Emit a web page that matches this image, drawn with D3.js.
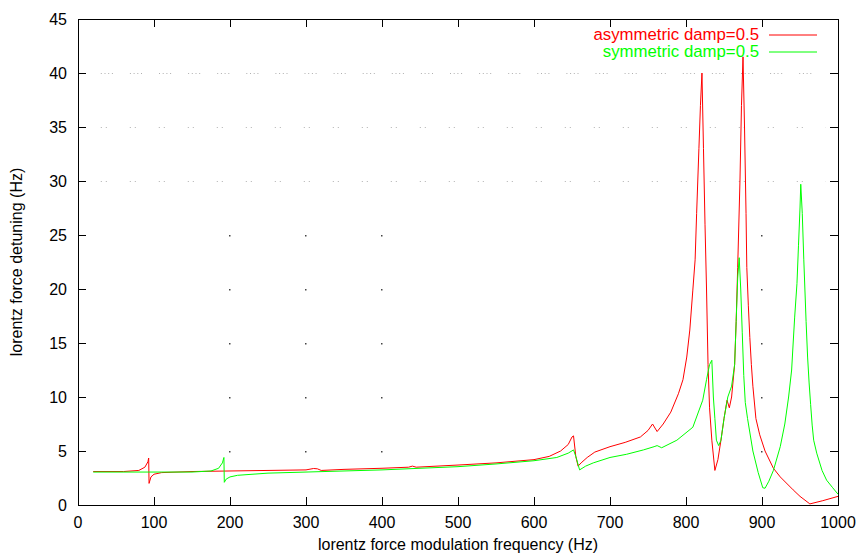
<!DOCTYPE html>
<html>
<head>
<meta charset="utf-8">
<script src="https://cdn.jsdelivr.net/npm/d3@7"></script>
<style>
  body { margin: 0; background: #fff; }
  text { font-family: "Liberation Sans", Arial, Helvetica, sans-serif; font-size: 16px; }
</style>
</head>
<body>
<svg width="860" height="554"></svg>
<script>
// asymmetric damp=0.5 (red)
var asymFreq = [20, 60, 80, 88, 92, 93, 93.5, 96, 100, 110, 150, 200, 250, 300, 310, 315, 320, 350, 400, 435, 440, 445,
  500, 550, 600, 620, 635, 645, 650, 652, 655, 658, 662, 670, 680, 700, 720, 740, 750, 756, 762, 770, 780, 790, 796,
  801, 805, 809, 812, 814, 817, 819, 821, 823, 825, 827, 829, 831, 834, 838, 842, 846, 850, 854, 857, 860, 864, 866,
  868, 871, 873, 875, 877, 879, 880, 882, 884, 886, 888, 892, 897, 904, 915, 924, 941, 950, 963, 980, 1000];
var asymDetune = [3.1, 3.1, 3.2, 3.5, 4.0, 4.35, 2.0, 2.6, 2.85, 3.0, 3.1, 3.15, 3.2, 3.25, 3.38, 3.35, 3.2, 3.3, 3.4, 3.5, 3.6, 3.5,
  3.7, 3.9, 4.2, 4.5, 5.0, 5.6, 6.3, 6.4, 4.5, 3.6, 3.9, 4.4, 4.9, 5.4, 5.8, 6.3, 6.9, 7.5, 6.8, 7.5, 8.6, 10.3, 11.6,
  13.7, 16.2, 19.9, 22.7, 27, 33, 37, 40, 33, 26, 20, 13, 9, 6, 3.2, 4.2, 6, 8, 9.7, 9, 10, 13, 17,
  22, 30, 37, 41.5, 35, 27, 22, 18.5, 15.5, 13, 11, 8, 6.5, 5.0, 3.4, 2.6, 1.4, 0.8, 0.1, 0.4, 0.8];

// symmetric damp=0.5 (green)
var symFreq = [20, 100, 150, 175, 185, 190, 192, 192.5, 195, 200, 210, 250, 300, 350, 400, 450, 500, 550, 600, 630, 645,
  652, 655, 660, 668, 678, 700, 722, 744, 758, 762, 768, 788, 809, 822, 827, 831, 834, 836, 838, 840, 843, 846, 850,
  855, 860, 864, 866, 868, 870, 872, 874, 876, 878, 881, 888, 895, 901, 904, 909, 915, 924, 930, 935, 939, 941, 943,
  946, 948, 950, 951, 953, 955, 958, 960, 962, 964, 966, 968, 972, 979, 985, 993, 1000];
var symDetune = [3.05, 3.05, 3.05, 3.15, 3.4, 3.9, 4.4, 2.1, 2.4, 2.6, 2.75, 2.95, 3.05, 3.15, 3.25, 3.4, 3.55, 3.8, 4.1, 4.4, 4.8,
  5.1, 4.5, 3.25, 3.6, 3.9, 4.4, 4.7, 5.1, 5.4, 5.5, 5.3, 6.0, 7.2, 9.7, 11.6, 13, 13.4, 10, 8, 6, 5.5, 6, 8,
  10, 11, 13, 17, 21, 22.9, 20, 16, 12, 9.5, 8, 5, 3, 1.6, 1.55, 2.2, 3.2, 5.4, 7.5, 10, 12.5, 15, 17.4,
  20.5, 24, 27.5, 29.7, 27, 22.7, 17, 13.7, 11.3, 9.3, 7.4, 6.0, 4.8, 3.2, 2.3, 1.6, 1.0];

var xTicks = [0, 100, 200, 300, 400, 500, 600, 700, 800, 900, 1000];
var yTicks = [0, 5, 10, 15, 20, 25, 30, 35, 40, 45];
var gridDotX = [200, 300, 400, 900];

var svg = d3.select("svg");
var plotLeft = 78, plotRight = 838, plotTop = 19, plotBottom = 505;

var x = d3.scaleLinear().domain([0, 1000]).range([plotLeft, plotRight]);
var y = d3.scaleLinear().domain([0, 45]).range([plotBottom, plotTop]);

// faint dotted grid (mostly only dots survive in the original)
var grid = svg.append("g");
yTicks.filter(function (v) { return v > 0 && v < 45; }).forEach(function (v) {
    if (v >= 30) {
        grid.append("line")
            .attr("x1", x(30)).attr("x2", x(1000) - 12)
            .attr("y1", Math.round(y(v)) + 0.5).attr("y2", Math.round(y(v)) + 0.5)
            .attr("stroke", "#b0b0b0")
            .attr("stroke-width", 1)
            .attr("stroke-dasharray", v == 40 ? "1,2.7,1,2.7,1,2.7,1,17" : "1,4,1,23");
    } else {
        gridDotX.forEach(function (gx) {
            grid.append("rect")
                .attr("x", Math.round(x(gx)) - 1).attr("y", Math.round(y(v)))
                .attr("width", 1.5).attr("height", 1.5)
                .attr("fill", "#444");
        });
    }
});

// axis frame
svg.append("rect")
    .attr("x", plotLeft + 0.5).attr("y", plotTop + 0.5)
    .attr("width", plotRight - plotLeft).attr("height", plotBottom - plotTop)
    .attr("fill", "none").attr("stroke", "#000").attr("stroke-width", 1);

// inward ticks, mirrored on top and right
var tickLen = 8;
var ticks = svg.append("g").attr("stroke", "#000").attr("stroke-width", 1);
xTicks.slice(1, -1).forEach(function (v) {
    var px = Math.round(x(v)) + 0.5;
    ticks.append("line").attr("x1", px).attr("x2", px).attr("y1", plotBottom).attr("y2", plotBottom - tickLen);
    ticks.append("line").attr("x1", px).attr("x2", px).attr("y1", plotTop).attr("y2", plotTop + tickLen);
});
yTicks.slice(1, -1).forEach(function (v) {
    var py = Math.round(y(v)) + 0.5;
    ticks.append("line").attr("x1", plotLeft).attr("x2", plotLeft + tickLen).attr("y1", py).attr("y2", py);
    ticks.append("line").attr("x1", plotRight).attr("x2", plotRight - tickLen).attr("y1", py).attr("y2", py);
});

// tick labels
svg.append("g").selectAll("text").data(xTicks).enter().append("text")
    .attr("x", function (d) { return x(d); })
    .attr("y", 528)
    .attr("text-anchor", "middle")
    .text(function (d) { return d; });

svg.append("g").selectAll("text").data(yTicks).enter().append("text")
    .attr("x", 67)
    .attr("y", function (d) { return y(d); })
    .attr("dy", "0.36em")
    .attr("text-anchor", "end")
    .text(function (d) { return d; });

// axis titles
svg.append("text")
    .attr("x", (plotLeft + plotRight) / 2)
    .attr("y", 550)
    .attr("text-anchor", "middle")
    .text("lorentz force modulation frequency (Hz)");

svg.append("text")
    .attr("transform", "translate(22," + (plotTop + plotBottom) / 2 + ") rotate(-90)")
    .attr("text-anchor", "middle")
    .text("lorentz force detuning (Hz)");

var line = d3.line()
    .x(function (d) { return x(d[0]); })
    .y(function (d) { return y(d[1]); });

var series = [
    { name: "asymmetric damp=0.5", color: "#ff0000", data: d3.zip(asymFreq, asymDetune) },
    { name: "symmetric damp=0.5", color: "#00ff00", data: d3.zip(symFreq, symDetune) }
];

series.forEach(function (s, i) {
    svg.append("path")
        .datum(s.data)
        .attr("fill", "none")
        .attr("stroke", s.color)
        .attr("stroke-width", 1)
        .attr("d", line);

    // legend
    var ly = 35 + i * 17;
    svg.append("text")
        .attr("x", 759)
        .attr("y", ly + 5)
        .attr("text-anchor", "end")
        .attr("fill", s.color)
        .style("font-size", "16.8px")
        .text(s.name);
    svg.append("line")
        .attr("x1", 769).attr("x2", 817)
        .attr("y1", ly).attr("y2", ly)
        .attr("stroke", s.color)
        .attr("stroke-width", 1);
});
</script>
</body>
</html>
